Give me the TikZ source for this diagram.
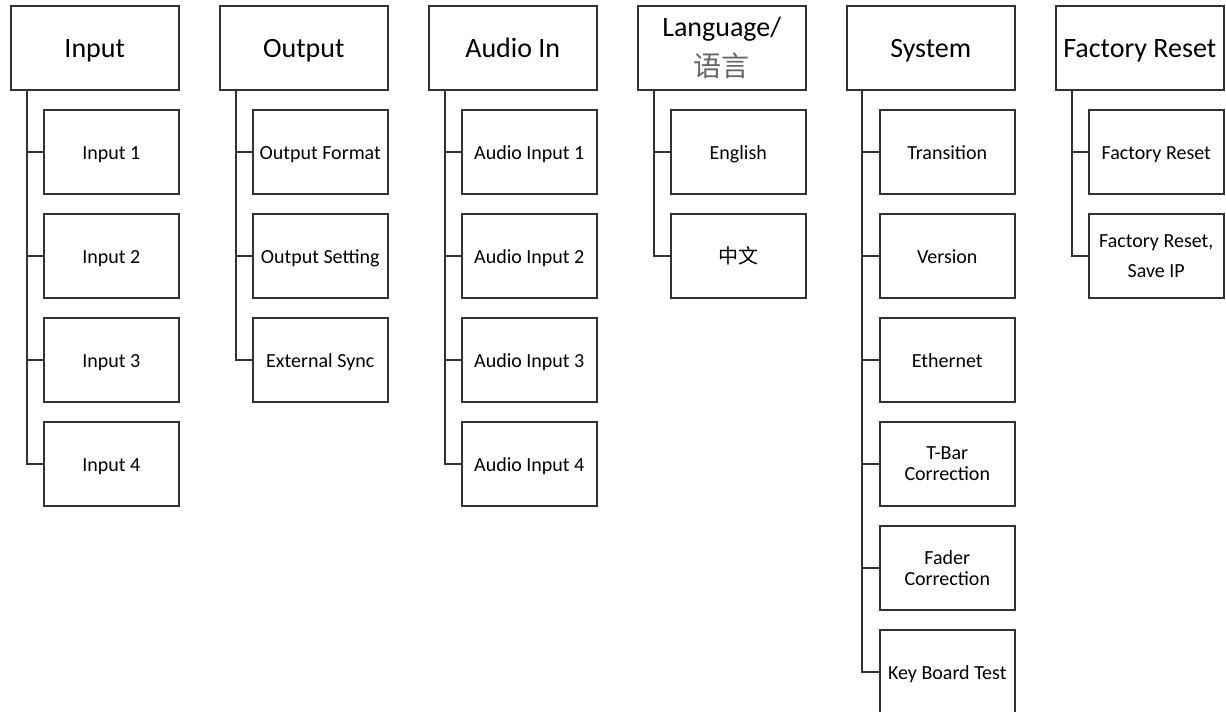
\documentclass[tikz,border=0pt]{standalone}
\usepackage{fontspec}
\setmainfont{Carlito}
\newfontfamily\cjk{Noto Sans CJK SC}
\begin{document}
\begin{tikzpicture}[x=1pt,y=-1pt,
  menu/.style={draw=black!80,line width=1.5pt,minimum width=168pt,minimum height=84pt,
    anchor=north west,inner sep=0pt,align=center,font=\fontsize{28}{40}\selectfont},
  item/.style={draw=black!80,line width=1.5pt,minimum width=135pt,minimum height=84pt,
    anchor=north west,inner sep=0pt,align=center,font=\fontsize{20}{21}\selectfont},
  topline/.style={text height=24pt,text depth=4pt},
  oneline/.style={text height=18pt,text depth=2pt},
  twoline/.style={},
  link/.style={draw=black!80,line width=1.5pt}]
  \useasboundingbox (0,0) rectangle (1226,712);

  % Top level menus
  \node[menu,topline] (in) at (10,5) {Input};
  \node[menu,topline] (out) at (219,5) {Output};
  \node[menu,topline] (aud) at (428,5) {Audio In};
  \node[menu] (lang) at (637,5) {Language/\\{\cjk\color{black!60}语言}};
  \node[menu,topline] (sys) at (846,5) {System};
  \node[menu,topline] (fac) at (1055,5) {Factory Reset};

  % Input items
  \foreach \k/\t in {1/Input 1,2/Input 2,3/Input 3,4/Input 4}{
    \node[item,oneline] (in\k) at (43,{5+104*\k}) {\t};
    \draw[link] ([xshift=17pt]in.south west) |- (in\k.west);
  }

  % Output items
  \foreach \k/\t in {1/Output Format,2/Output Setting,3/External Sync}{
    \node[item,oneline] (out\k) at (252,{5+104*\k}) {\t};
    \draw[link] ([xshift=17pt]out.south west) |- (out\k.west);
  }

  % Audio items
  \foreach \k/\t in {1/Audio Input 1,2/Audio Input 2,3/Audio Input 3,4/Audio Input 4}{
    \node[item,oneline] (aud\k) at (461,{5+104*\k}) {\t};
    \draw[link] ([xshift=17pt]aud.south west) |- (aud\k.west);
  }

  % Language items
  \foreach \k/\t in {1/English,2/{\cjk 中文}}{
    \node[item,oneline] (lang\k) at (670,{5+104*\k}) {\t};
    \draw[link] ([xshift=17pt]lang.south west) |- (lang\k.west);
  }

  % System items
  \foreach \k/\s/\t in {1/oneline/Transition,2/oneline/Version,3/oneline/Ethernet,
                        4/twoline/T-Bar\\Correction,5/twoline/Fader\\Correction,
                        6/oneline/Key Board Test}{
    \node[item,\s] (sys\k) at (879,{5+104*\k}) {\t};
    \draw[link] ([xshift=16pt]sys.south west) |- (sys\k.west);
  }

  % Factory reset items
  \foreach \k/\s/\t in {1/oneline/Factory Reset,2/twoline/{Factory Reset,\\[9pt]Save IP}}{
    \node[item,\s] (fac\k) at (1088,{5+104*\k}) {\t};
    \draw[link] ([xshift=17pt]fac.south west) |- (fac\k.west);
  }
\end{tikzpicture}
\end{document}
